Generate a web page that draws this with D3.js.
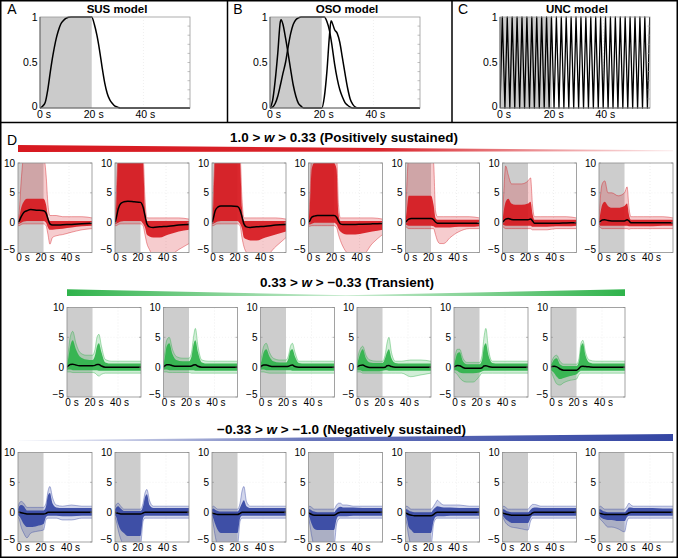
<!DOCTYPE html>
<html><head><meta charset="utf-8">
<script src="https://cdn.jsdelivr.net/npm/d3@7"></script>
<style>body{margin:0;background:#fff} svg{display:block;font-family:"Liberation Sans",Arial,sans-serif}</style>
</head><body><svg id="c" width="678" height="558"></svg>
<script>
// ---------- Top model panels ----------
const modelTicksX = [0, 20, 40];
const modelTickLabelsX = ["0 s", "20 s", "40 s"];
const modelTicksY = [0, 0.5, 1];
const modelTickLabelsY = ["0", "0.5", "1"];

const susTimes = [0,1,2,3,4,5,6,7,8,9,10,11,12,20,21,22,23,24,25,26,27,28,29,30,31,58];
const susValues = [0,0.02,0.06,0.2,0.4,0.58,0.73,0.84,0.92,0.96,0.985,0.997,1,1,0.92,0.8,0.64,0.45,0.28,0.16,0.09,0.05,0.02,0.01,0,0];

const osoOnOffTimes = [0,1,2,3,4,4.3,5,6,7,8,9,10,11,12,13,20,21,22,23,23.6,24,25,26,27,28,29,30,31,32,33,34,58];
const osoOnOffValues = [0,0.08,0.3,0.6,0.95,0.97,0.92,0.77,0.6,0.42,0.25,0.13,0.05,0.02,0,0,0.12,0.4,0.8,0.96,0.94,0.86,0.82,0.72,0.55,0.38,0.22,0.1,0.04,0.01,0,0];
const osoSusTimes = [0,1,2,3,4,5,6,7,8,9,10,11,12,21,22,23,24,25,26,27,28,29,30,31,32,58];
const osoSusValues = [0,0.01,0.05,0.13,0.25,0.38,0.5,0.67,0.82,0.92,0.97,0.99,1,1,0.95,0.85,0.68,0.48,0.32,0.2,0.12,0.06,0.03,0.01,0,0];

const uncTimes = [0,0.9,1.9,2.8,3.8,4.7,5.7,6.6,7.6,8.5,9.5,10.4,11.4,12.3,13.3,14.2,15.2,16.1,17.1,18,19,19.9,20.9,21.8,22.8,23.7,24.7,25.6,26.6,27.5,28.5,29.4,30.4,31.3,32.3,33.2,34.2,35.1,36.1,37,38,38.9,39.9,40.8,41.8,42.7,43.7,44.6,45.6,46.5,47.5,48.4,49.4,50.3,51.3,52.2,53.2,54.1,55.1,56,57,57.9];
const uncValues = [0,1,0,1,0,1,0,1,0,1,0,1,0,1,0,1,0,1,0,1,0,1,0,1,0,1,0,1,0,1,0,1,0,1,0,1,0,1,0,1,0,1,0,1,0,1,0,1,0,1,0,1,0,1,0,1,0,1,0,1,0,1];

// ---------- Response panels (D) ----------
const respTicksX = [0, 20, 40];
const respTickLabelsX = ["0 s", "20 s", "40 s"];
const respTicksY = [-5, 0, 5, 10];
const respTickLabelsY = ["\u22125", "0", "5", "10"];
const tGrid = [0,1,2.5,4.5,7,10,15,20,22,23.5,25,27,30,35,42,50,58];

const groupTitles = ["1.0 > ", "w", " > 0.33 (Positively sustained)"];
const groupTitles2 = ["0.33 > ", "w", " > \u22120.33 (Transient)"];
const groupTitles3 = ["\u22120.33 > ", "w", " > \u22121.0 (Negatively sustained)"];

// Positively sustained (7 panels)
const posOuterHi = [
 [0.5,2,7,11,11,11,11,11,8,3,1.2,1.2,1.2,1,1,1,0.8],
 [0.5,5,11,11,11,11,11,11,11,4,0.8,0.8,0.8,0.8,0.8,0.8,0.6],
 [0.5,5,11,11,11,11,11,11,11,4,0.8,0.8,0.8,0.8,0.8,0.8,0.6],
 [0.5,4,11,11,11,11,11,11,11,3,0.8,0.8,0.8,0.8,0.8,0.8,0.6],
 [0.5,6,11,11,11,11,11,11,10,2,1,1,1,1,1,1,0.8],
 [0.5,5,9.5,8,6.5,6.5,6.5,7,7.5,3,1,1,1,1,1,1,0.8],
 [0.5,4,6.5,7,5,5,4.5,5,6,2.5,1,1,1,1,1,1,0.8]
];
const posCoreHi = [
 [0.3,1,2.5,3.5,4,4,4,4,3,1,0.3,0.3,0.3,0.3,0.3,0.3,0.3],
 [0.3,3,11,11,11,11,11,11,10,2.5,0.3,0.3,0.3,0.3,0.3,0.3,0.3],
 [0.3,3,11,11,11,11,11,11,10,2.5,0.3,0.3,0.3,0.3,0.3,0.3,0.3],
 [0.3,2.5,9,10,10,10,10,10,9,1.5,0.3,0.3,0.3,0.3,0.3,0.3,0.3],
 [0.3,2,4.5,4.5,4.5,4.5,4.5,4.5,3,0.8,0.5,0.5,0.5,0.5,0.5,0.5,0.5],
 [0.3,2,3.5,4,3.2,3,3,3.2,3.5,1.5,0.5,0.5,0.5,0.5,0.5,0.5,0.5],
 [0.3,1.5,3,3.5,2.8,2.5,2.5,2.8,3.2,1.3,0.5,0.5,0.5,0.5,0.5,0.5,0.5]
];
const posMean = [
 [0,0.3,1.0,1.7,2.0,2.2,2.1,2,1.6,0.6,-0.2,-0.4,-0.4,-0.35,-0.3,-0.2,-0.1],
 [0,0.8,2.3,3.2,3.5,3.6,3.5,3.4,2.6,1.2,-0.2,-0.7,-0.8,-0.7,-0.6,-0.4,-0.3],
 [0,0.7,2,2.6,2.8,2.8,2.8,2.7,2.1,1,-0.2,-0.7,-0.8,-0.7,-0.6,-0.4,-0.3],
 [0,0.3,0.9,1.1,1.2,1.2,1.2,1.2,0.9,0.3,-0.2,-0.3,-0.3,-0.3,-0.25,-0.2,-0.15],
 [0,0.3,0.6,0.7,0.7,0.7,0.7,0.7,0.5,0.1,-0.1,-0.1,-0.1,-0.1,-0.1,-0.1,-0.1],
 [0,0.3,0.6,0.7,0.55,0.5,0.5,0.5,0.6,0.3,-0.1,-0.1,-0.1,-0.1,-0.1,-0.05,0],
 [0,0.2,0.45,0.5,0.35,0.3,0.3,0.3,0.5,0.3,0,0,0,0,0,0,0]
];
const posCoreLo = [
 [-0.3,-0.2,0,0.2,0.3,0.3,0.3,0.3,0,-0.8,-1.2,-1.2,-1.1,-1,-0.8,-0.6,-0.5],
 [-0.3,-0.2,0,0.2,0.3,0.3,0.3,0.3,-0.2,-0.8,-2,-2.3,-2.5,-2.5,-2,-1.5,-1.2],
 [-0.3,-0.2,0,0.2,0.3,0.3,0.3,0.3,-0.2,-1,-2.5,-2.8,-3,-3,-2.5,-2,-1.5],
 [-0.3,-0.3,-0.2,0,0,0,0,0,-0.3,-1,-1.5,-1.8,-2,-2,-1.8,-1.5,-1.2],
 [-0.3,-0.4,-0.5,-0.5,-0.5,-0.5,-0.5,-0.5,-0.6,-0.8,-0.8,-0.8,-0.8,-0.8,-0.7,-0.7,-0.6],
 [-0.3,-0.4,-0.5,-0.5,-0.5,-0.5,-0.5,-0.5,-0.5,-0.7,-0.7,-0.7,-0.7,-0.7,-0.6,-0.6,-0.5],
 [-0.3,-0.5,-0.5,-0.5,-0.5,-0.5,-0.5,-0.5,-0.5,-0.6,-0.6,-0.6,-0.6,-0.6,-0.6,-0.5,-0.5]
];
const posOuterLo = [
 [-0.5,-0.5,-0.3,-0.2,-0.2,-0.2,-0.2,-0.2,-0.5,-2,-3.6,-2.5,-2.2,-2,-1.6,-1.2,-1],
 [-0.5,-0.5,-0.3,-0.2,-0.2,-0.2,-0.2,-0.2,-0.5,-2,-3.5,-4.5,-5.5,-5.5,-5.5,-4.5,-3.5],
 [-0.5,-0.5,-0.3,-0.2,-0.2,-0.2,-0.2,-0.2,-0.5,-2.5,-4,-5,-5.5,-5.5,-5.5,-4,-2.5],
 [-0.6,-0.6,-0.5,-0.5,-0.5,-0.5,-0.5,-0.5,-0.8,-2,-3,-4,-5,-5.5,-5.5,-3.5,-2],
 [-0.6,-0.8,-1,-1,-1,-1,-1,-1,-1,-2,-3,-3.5,-3.5,-2.5,-1.5,-1,-1],
 [-0.6,-0.8,-1,-1,-1,-1,-1,-1,-1,-1.2,-1.2,-1.2,-1.2,-1.2,-1,-1,-1],
 [-0.6,-0.8,-1,-1,-1,-1,-1,-1,-1,-1.1,-1,-1,-1,-1,-1,-1,-1]
];

// Transient (6 panels)
const transOuterHi = [
 [0.7,2.5,5,6,4,2.5,2,2,3,5,5.5,3.5,1.3,1,1,1,1],
 [0.7,2.5,4.5,5,3,1.8,1.5,1.5,2.5,5,6.5,3.5,1.2,1,1,1,1],
 [0.7,2,3.5,4,2.5,1.5,1.2,1.2,2,3.5,4,2.5,1,1,1,1,1],
 [0.7,2,3,3.5,2,1.2,1,1,2,4,5,2.5,1,1,1.2,1.2,1],
 [0.7,2,3,3,1.5,0.8,0.8,0.8,2,5,6.5,3,1,1,1,1,1],
 [0.7,1.2,1.8,2,1,0.5,0.5,0.5,1.5,4,4.5,2.5,1.2,1,1,1,1]
];
const transCoreHi = [
 [0.5,1.5,3.5,4.5,3,1.8,1.3,1.2,2,3.5,4,2.5,0.8,0.6,0.6,0.6,0.6],
 [0.5,1.5,3.5,4,2.2,1.2,1,1,1.8,3.8,4.5,2.5,0.8,0.6,0.6,0.6,0.6],
 [0.5,1.2,2.5,3,1.8,1,0.8,0.8,1.5,2.8,3,1.8,0.7,0.6,0.6,0.6,0.6],
 [0.5,1.2,2.3,3,1.5,0.8,0.7,0.7,1.5,2.5,3,1.5,0.7,0.6,0.6,0.6,0.6],
 [0.5,1.2,2.3,2.5,1,0.5,0.5,0.5,1.2,3.5,4,2,0.7,0.6,0.6,0.6,0.6],
 [0.5,0.8,1.3,1.5,0.5,0.2,0.2,0.2,1,3.5,4,2,0.8,0.6,0.6,0.6,0.6]
];
const transMean = [
 [0,0.2,0.45,0.5,0.35,0.25,0.25,0.25,0.3,0.45,0.45,0.2,0,0,0,0,0],
 [0,0.2,0.4,0.4,0.25,0.15,0.15,0.15,0.2,0.35,0.4,0.15,0,0,0,0,0],
 [0,0.2,0.35,0.35,0.2,0.1,0.1,0.1,0.15,0.3,0.35,0.1,0,0,0,0,0],
 [0,0.15,0.3,0.35,0.1,-0.05,-0.05,-0.05,0,0.25,0.3,0.1,0,0,0,0,0],
 [0,0.15,0.3,0.25,-0.05,-0.2,-0.2,-0.2,-0.1,0.2,0.25,0.1,0,0,0,0,0],
 [0,0.1,0.15,0.05,-0.3,-0.5,-0.5,-0.5,-0.2,0.1,0.15,0.1,0.05,0,0,0,0]
];
const transCoreLo = [
 [-0.5,-0.4,-0.4,-0.5,-0.5,-0.5,-0.5,-0.5,-0.5,-0.5,-0.6,-0.6,-0.6,-0.6,-0.6,-0.6,-0.6],
 [-0.5,-0.4,-0.4,-0.5,-0.5,-0.5,-0.5,-0.5,-0.5,-0.5,-0.6,-0.6,-0.6,-0.6,-0.6,-0.6,-0.6],
 [-0.5,-0.4,-0.4,-0.5,-0.5,-0.5,-0.5,-0.5,-0.5,-0.5,-0.6,-0.6,-0.6,-0.6,-0.6,-0.6,-0.6],
 [-0.5,-0.5,-0.5,-0.7,-0.7,-0.7,-0.7,-0.6,-0.5,-0.5,-0.6,-0.6,-0.6,-0.6,-0.6,-0.6,-0.6],
 [-0.5,-0.5,-0.6,-0.9,-1,-1,-1,-0.9,-0.7,-0.6,-0.6,-0.6,-0.6,-0.6,-0.6,-0.6,-0.6],
 [-0.5,-0.7,-1,-1.6,-2,-1.8,-1.5,-1.2,-0.8,-0.6,-0.6,-0.6,-0.6,-0.6,-0.6,-0.6,-0.6]
];
const transOuterLo = [
 [-0.8,-0.8,-0.8,-0.9,-0.9,-0.9,-0.9,-0.9,-1,-1.3,-1.5,-1.2,-1,-1,-1,-1,-1],
 [-0.8,-0.8,-0.8,-0.9,-0.9,-0.9,-0.9,-0.9,-1,-1,-1,-1,-1,-1,-1,-1,-1],
 [-0.8,-0.8,-0.8,-0.9,-1,-1,-1,-1,-1,-1,-1,-1,-1,-1,-1,-1,-1],
 [-0.8,-0.8,-0.8,-1,-1,-1,-1,-1,-1,-1,-1,-1,-1,-1,-1.6,-1.3,-1],
 [-0.8,-0.9,-1.2,-1.8,-2.3,-2.5,-2.5,-1.5,-1,-1,-1,-1,-1,-1,-1,-1,-1],
 [-0.8,-1.2,-2,-2.8,-3,-2.6,-2.2,-2,-1.2,-1,-1,-1,-1,-1,-1,-1,-1]
];

// Negatively sustained (7 panels)
const negOuterHi = [
 [0.8,1.5,1.8,1.5,0.8,0.8,0.8,0.8,1.5,3.5,4.3,2.5,1.2,1,1.2,1,1],
 [0.8,1.3,1.5,1,0.5,0.5,0.5,0.5,1.5,3.2,3.8,2,1,1,1,1,1],
 [0.8,1,0.8,0.5,0.5,0.5,0.5,0.5,1.5,3.5,4.3,1.8,1,1,1,1,1],
 [0.8,1,0.8,0.5,0.5,0.5,0.5,0.5,1.2,1.5,1.5,1.2,1.2,1,1,1,1],
 [0.8,1,0.8,0.5,0.5,0.5,0.5,0.5,1,1.5,2,1.6,1.2,1.2,1.2,1,1],
 [0.8,1,0.8,0.5,0.5,0.5,0.5,0.5,1,1.3,1.3,1.2,1,1,1,1,1],
 [0.8,1,0.8,0.5,0.5,0.5,0.5,0.5,1,1.5,1.2,1,1,1,1,1,1]
];
const negCoreHi = [
 [0.5,1,1.2,1,0.3,0.3,0.3,0.3,1,2.8,3.2,1.5,0.8,0.7,0.7,0.7,0.7],
 [0.5,0.8,1,0.6,0.2,0.2,0.2,0.2,1,2.5,3,1.2,0.7,0.7,0.7,0.7,0.7],
 [0.5,0.6,0.4,0.2,0.1,0.1,0.1,0.1,0.8,1.5,2,1,0.7,0.7,0.7,0.7,0.7],
 [0.5,0.5,0.3,0.1,0,0,0,0,0.5,0.8,0.9,0.8,0.8,0.8,0.7,0.7,0.7],
 [0.5,0.5,0.3,0.1,0,0,0,0,0.5,0.8,1,0.9,0.8,0.8,0.7,0.7,0.7],
 [0.5,0.5,0.3,0.1,0,0,0,0,0.4,0.7,0.8,0.8,0.7,0.7,0.7,0.7,0.7],
 [0.5,0.5,0.3,0.1,0,0,0,0,0.4,0.8,0.8,0.7,0.7,0.7,0.7,0.6,0.6]
];
const negMean = [
 [0,0,-0.1,-0.2,-0.3,-0.3,-0.3,-0.3,-0.2,0,0,0,0,0,0,0,0],
 [0,-0.1,-0.2,-0.3,-0.3,-0.3,-0.3,-0.3,-0.15,0,0,0,0,0,0,0,0],
 [0,-0.2,-0.3,-0.4,-0.4,-0.4,-0.4,-0.4,-0.2,0,0,0,0,0,0,0,0],
 [0,-0.2,-0.4,-0.5,-0.5,-0.5,-0.5,-0.5,-0.3,-0.1,0,0,0,0,0,0,0],
 [0,-0.2,-0.4,-0.5,-0.6,-0.6,-0.6,-0.6,-0.4,-0.1,0,0,0,0,0,0,0],
 [0,-0.2,-0.3,-0.4,-0.5,-0.5,-0.5,-0.5,-0.4,-0.1,0,0,0,0,0,0,0],
 [0,-0.2,-0.3,-0.4,-0.4,-0.4,-0.4,-0.4,-0.3,-0.1,0,0,0,0,0,0,0]
];
const negCoreLo = [
 [-0.5,-0.7,-1.2,-2,-2.5,-2.5,-2.3,-2,-0.8,-0.6,-0.6,-0.6,-0.6,-0.7,-0.7,-0.6,-0.6],
 [-0.5,-0.8,-2,-3,-3.5,-4,-4,-4,-1,-0.6,-0.6,-0.6,-0.6,-0.6,-0.6,-0.6,-0.6],
 [-0.5,-1,-2,-3,-3.5,-3.5,-3.5,-3.5,-1,-0.6,-0.6,-0.6,-0.6,-0.6,-0.6,-0.6,-0.6],
 [-0.5,-1,-2,-2.8,-3,-3,-3,-3,-1.2,-0.7,-0.7,-0.7,-0.7,-0.6,-0.6,-0.6,-0.6],
 [-0.5,-1,-2.5,-3,-3.5,-3.5,-3.5,-3.5,-1.5,-0.8,-0.7,-0.7,-0.7,-0.6,-0.6,-0.6,-0.6],
 [-0.5,-0.8,-1.2,-1.5,-1.8,-1.8,-1.8,-1.8,-1,-0.6,-0.6,-0.6,-0.6,-0.6,-0.6,-0.6,-0.6],
 [-0.5,-0.8,-1,-1.2,-1.3,-1.3,-1.5,-1.5,-0.8,-0.6,-0.6,-0.6,-0.6,-0.6,-0.6,-0.6,-0.6]
];
const negOuterLo = [
 [-0.8,-1.2,-2.5,-3.5,-4.3,-3.5,-3.2,-3,-1.2,-1,-1,-1,-1,-1.3,-1.3,-1,-1],
 [-0.8,-1.5,-3,-4.5,-5.5,-5.5,-5.5,-5.5,-1.5,-1,-1,-1,-1,-1,-1,-1,-1],
 [-0.8,-2,-4,-5.5,-5.5,-5.5,-5.5,-5.5,-1.5,-1,-1,-1,-1,-1,-1,-1,-1],
 [-0.8,-2,-4,-5.5,-5.5,-5.5,-5.5,-5.5,-2,-1.2,-1,-1,-1,-1,-1,-1,-1],
 [-0.8,-2,-4,-5.5,-5.5,-5.5,-5.5,-5.5,-2,-1.2,-1,-1,-1,-1,-1,-1,-1],
 [-0.8,-1.2,-1.8,-2.2,-2.5,-2.6,-2.8,-3,-1.5,-1,-1,-1,-1,-1,-1,-1,-1],
 [-0.8,-1.2,-1.5,-2,-2.5,-2.5,-2.8,-3.3,-1.5,-1,-1,-1,-1,-1,-1,-1,-1]
];

// ---------- drawing ----------
const svg = d3.select("#c");
const defs = svg.append("defs");

// frames
svg.append("rect").attr("x",0.75).attr("y",0.75).attr("width",676.5).attr("height",556.5)
  .attr("fill","none").attr("stroke","#000").attr("stroke-width",1.5);
svg.append("line").attr("x1",0).attr("x2",678).attr("y1",122.5).attr("y2",122.5).attr("stroke","#000").attr("stroke-width",1.5);
[227.5, 452].forEach(x => svg.append("line").attr("x1",x).attr("x2",x).attr("y1",0).attr("y2",122.5).attr("stroke","#000").attr("stroke-width",1.5));

let clipN = 0;
function clip(x,y,w,h){
  const id = "clip"+(clipN++);
  defs.append("clipPath").attr("id",id).append("rect").attr("x",x).attr("y",y).attr("width",w).attr("height",h);
  return `url(#${id})`;
}

function topPanel(x0, letter, letterX, title, series){
  const w = 150, y0 = 17, y1 = 108;
  const xs = d3.scaleLinear().domain([0,58]).range([x0, x0+w]);
  const ys = d3.scaleLinear().domain([0,1]).range([y1, y0]);
  const g = svg.append("g");
  const pg = g.append("g").attr("clip-path", clip(x0, y0-1, w, y1-y0+2));
  pg.append("rect").attr("x",xs(0)).attr("y",y0).attr("width",xs(20)-xs(0)).attr("height",y1-y0).attr("fill","#cbcbcb");
  [40].forEach(t => pg.append("line").attr("x1",xs(t)).attr("x2",xs(t)).attr("y1",y0).attr("y2",y1)
     .attr("stroke","#e4e4e4").attr("stroke-width",0.6).attr("stroke-dasharray","1,2"));
  series.forEach(s => {
    const line = d3.line().x((d,i)=>xs(s.t[i])).y(d=>ys(d));
    if (s.smooth) line.curve(d3.curveMonotoneX);
    pg.append("path").attr("d", line(s.v)).attr("fill","none").attr("stroke","#000")
      .attr("stroke-width", s.sw || 1.5).attr("stroke-linejoin","round");
  });
  g.append("rect").attr("x",x0).attr("y",y0).attr("width",w).attr("height",y1-y0)
    .attr("fill","none").attr("stroke","#9a9a9a").attr("stroke-width",0.8);
  g.append("line").attr("x1",x0).attr("x2",x0+w).attr("y1",y1).attr("y2",y1).attr("stroke","#555").attr("stroke-width",0.8);
  g.append("line").attr("x1",x0).attr("x2",x0).attr("y1",y0).attr("y2",y1).attr("stroke","#555").attr("stroke-width",0.8);
  for (let k=1;k<10;k++){
    g.append("line").attr("x1",x0+w-2.5).attr("x2",x0+w).attr("y1",ys(k/10)).attr("y2",ys(k/10)).attr("stroke","#999").attr("stroke-width",0.6);
  }
  modelTicksY.forEach((v,i) => g.append("text").attr("x",x0-2.5).attr("y",ys(v)+(v===0?2:3.5))
    .attr("text-anchor","end").attr("font-size",10.5).text(modelTickLabelsY[i]));
  modelTicksX.forEach((v,i) => g.append("text").attr("x",xs(v)+(v===0?4:2)).attr("y",y1+10)
    .attr("text-anchor","middle").attr("font-size",10.5).text(modelTickLabelsX[i]));
  g.append("text").attr("x",x0+w/2+2).attr("y",12.5).attr("text-anchor","middle").attr("font-size",11.5)
    .attr("font-weight","bold").text(title);
  g.append("text").attr("x",letterX).attr("y",13.5).attr("text-anchor","middle").attr("font-size",14).text(letter);
}

topPanel(40, "A", 12, "SUS model", [{t:susTimes, v:susValues, smooth:true}]);
topPanel(270, "B", 238, "OSO model", [{t:osoOnOffTimes, v:osoOnOffValues, smooth:true},{t:osoSusTimes, v:osoSusValues, smooth:true}]);
topPanel(500, "C", 463, "UNC model", [{t:uncTimes, v:uncValues, smooth:false, sw:1.3}]);

svg.append("text").attr("x",12).attr("y",145).attr("text-anchor","middle").attr("font-size",14).text("D");

function grad(id, stops){
  const lg = defs.append("linearGradient").attr("id",id).attr("x1","0%").attr("x2","100%").attr("y1","0%").attr("y2","0%");
  stops.forEach(s => lg.append("stop").attr("offset",s[0]).attr("stop-color",s[1]).attr("stop-opacity",s[2]));
}
const RED = "#d71920", GREEN = "#2fb34b", BLUE = "#3446a3";
grad("gRed", [[0,RED,1],[0.55,RED,0.95],[1,RED,0.08]]);
grad("gGreen", [[0,GREEN,1],[0.5,GREEN,0.25],[1,GREEN,1]]);
grad("gBlue", [[0,BLUE,0.03],[0.45,BLUE,0.75],[1,BLUE,1]]);
svg.append("polygon").attr("points","18,145 673,150.3 673,151.3 18,152").attr("fill","url(#gRed)");
svg.append("polygon").attr("points","67,289.3 346,295.2 625,289.3 625,296 67,296").attr("fill","url(#gGreen)");
svg.append("polygon").attr("points","18,440.3 673,434 673,441 18,441").attr("fill","url(#gBlue)");

function groupTitle(parts, cx, y, targetW){
  const t = svg.append("text").attr("x",cx).attr("y",y).attr("text-anchor","middle")
    .attr("font-size",12).attr("font-weight","bold");
  t.append("tspan").text(parts[0]);
  t.append("tspan").attr("font-style","italic").text(parts[1]);
  t.append("tspan").text(parts[2]);
  const bw = t.node().getComputedTextLength();
  t.attr("font-size", 12*targetW/bw);
}
groupTitle(groupTitles, 344, 141.5, 228);
groupTitle(groupTitles2, 347, 286.5, 174);
groupTitle(groupTitles3, 341.5, 434, 249);

function smallPanel(x0, y0, color, oH, cH, m, cL, oL){
  const w = 74, h = 89.5;
  const xs = d3.scaleLinear().domain([0,58]).range([x0, x0+w]);
  const ys = d3.scaleLinear().domain([-5,10]).range([y0+h, y0]);
  const g = svg.append("g");
  const pg = g.append("g").attr("clip-path", clip(x0, y0, w, h));
  pg.append("rect").attr("x",xs(0)).attr("y",y0).attr("width",xs(20)-xs(0)).attr("height",h).attr("fill","#cdcdcd");
  [40].forEach(t => pg.append("line").attr("x1",xs(t)).attr("x2",xs(t)).attr("y1",y0).attr("y2",y0+h)
     .attr("stroke","#e2e2e2").attr("stroke-width",0.6).attr("stroke-dasharray","1,2"));
  [5].forEach(v => pg.append("line").attr("x1",xs(20)).attr("x2",x0+w).attr("y1",ys(v)).attr("y2",ys(v))
     .attr("stroke","#ececec").attr("stroke-width",0.6).attr("stroke-dasharray","1,2"));
  const X = (d,i) => xs(tGrid[i]);
  const area = (lo, hi) => d3.area().x(X).y0((d,i)=>ys(lo[i])).y1((d,i)=>ys(hi[i])).curve(d3.curveMonotoneX)(tGrid);
  const line = arr => d3.line().x(X).y(d=>ys(d)).curve(d3.curveMonotoneX)(arr);
  pg.append("path").attr("d", area(oL, oH)).attr("fill", color).attr("fill-opacity", 0.22);
  pg.append("path").attr("d", area(cL, cH)).attr("fill", color).attr("fill-opacity", 0.92);
  [oH, oL].forEach(a => pg.append("path").attr("d", line(a)).attr("fill","none").attr("stroke",color)
     .attr("stroke-width",0.6).attr("stroke-opacity",0.7));
  pg.append("path").attr("d", line(m)).attr("fill","none").attr("stroke","#000").attr("stroke-width",1.5);
  g.append("rect").attr("x",x0).attr("y",y0).attr("width",w).attr("height",h)
    .attr("fill","none").attr("stroke","#8c8c8c").attr("stroke-width",0.8);
  respTicksY.forEach((v,i) => {
    g.append("line").attr("x1",x0).attr("x2",x0+2).attr("y1",ys(v)).attr("y2",ys(v)).attr("stroke","#8c8c8c").attr("stroke-width",0.6);
    g.append("line").attr("x1",x0+w-2).attr("x2",x0+w).attr("y1",ys(v)).attr("y2",ys(v)).attr("stroke","#8c8c8c").attr("stroke-width",0.6);
    g.append("text").attr("x",x0-3).attr("y",ys(v)+(v===-5?0.5:3.5)).attr("text-anchor","end")
      .attr("font-size",10).text(respTickLabelsY[i]);
  });
  respTicksX.forEach((v,i) => g.append("text").attr("x",xs(v)+(v===0?5:1.5)).attr("y",y0+h+8.5)
    .attr("text-anchor","middle").attr("font-size",10).text(respTickLabelsX[i]));
}

const rowXFull = [18,115,212,308.5,405.5,502.5,599];
const rowXTrans = [67,163.5,260.5,357,454,551];
posMean.forEach((m,i) => smallPanel(rowXFull[i], 163, RED, posOuterHi[i], posCoreHi[i], m, posCoreLo[i], posOuterLo[i]));
transMean.forEach((m,i) => smallPanel(rowXTrans[i], 307.5, GREEN, transOuterHi[i], transCoreHi[i], m, transCoreLo[i], transOuterLo[i]));
negMean.forEach((m,i) => smallPanel(rowXFull[i], 452.5, BLUE, negOuterHi[i], negCoreHi[i], m, negCoreLo[i], negOuterLo[i]));
</script>
</body></html>
